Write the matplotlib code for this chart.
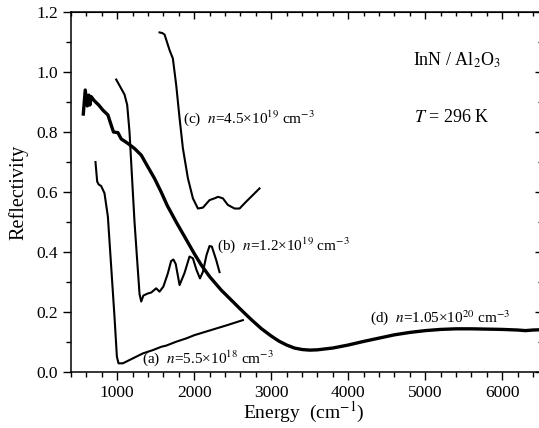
import matplotlib
matplotlib.use('Agg')
import matplotlib.pyplot as plt
from matplotlib.ticker import MultipleLocator

plt.rcParams['font.family'] = ['Liberation Serif', 'DejaVu Serif']
plt.rcParams['mathtext.fontset'] = 'stix'

# (a) n=5.5e18
a_E = [718, 740, 760, 792, 835, 879, 922, 965, 996, 1017, 1074, 1160, 1247,
       1333, 1463, 1571, 1636, 1766, 1896, 2004, 2221, 2438, 2632]
a_R = [0.70, 0.635, 0.625, 0.62, 0.596, 0.518, 0.351, 0.184, 0.051, 0.029,
       0.029, 0.04, 0.051, 0.062, 0.073, 0.084, 0.088, 0.101, 0.112, 0.123,
       0.14, 0.157, 0.173]

# (b) n=1.2e19
b_E = [987, 1052, 1095, 1130, 1160, 1190, 1225, 1260, 1290, 1312, 1340, 1400,
       1442, 1506, 1550, 1600, 1658, 1700, 1730, 1760, 1810, 1874, 1939, 1983,
       2030, 2075, 2113, 2160, 2199, 2229, 2286, 2329]
b_R = [0.975, 0.945, 0.925, 0.89, 0.80, 0.66, 0.50, 0.37, 0.26, 0.235, 0.255,
       0.262, 0.265, 0.279, 0.268, 0.285, 0.329, 0.37, 0.375, 0.36, 0.29, 0.33,
       0.385, 0.379, 0.34, 0.312, 0.334, 0.39, 0.42, 0.418, 0.373, 0.333]

# (c) n=4.5e19
c_E = [1550, 1585, 1615, 1680, 1723, 1766, 1810, 1853, 1918, 1983, 2048, 2113,
       2199, 2264, 2310, 2372, 2437, 2524, 2589, 2675, 2762, 2848]
c_R = [1.132, 1.13, 1.125, 1.073, 1.045, 0.957, 0.846, 0.746, 0.646, 0.579,
       0.545, 0.548, 0.573, 0.579, 0.584, 0.579, 0.557, 0.545, 0.545, 0.568,
       0.59, 0.612]

# (d) n=1.05e20
d_E = [560, 585, 612, 632, 645, 662, 700, 760, 814, 879, 922, 952, 1009, 1052,
       1139, 1225, 1312, 1398, 1485, 1571, 1650, 1766, 1900, 2000, 2091, 2200,
       2351, 2500, 2610, 2740, 2870, 3000, 3100, 3200, 3300, 3400, 3500, 3600,
       3800, 4000, 4200, 4400, 4600, 4800, 5000, 5200, 5400, 5600, 5800, 6000,
       6200, 6300, 6400, 6510]
d_R = [0.86, 0.94, 0.887, 0.923, 0.89, 0.918, 0.905, 0.89, 0.873, 0.857, 0.823,
       0.80, 0.798, 0.777, 0.762, 0.745, 0.723, 0.684, 0.645, 0.60, 0.555, 0.50,
       0.44, 0.395, 0.357, 0.318, 0.273, 0.235, 0.207, 0.175, 0.145, 0.12,
       0.103, 0.09, 0.08, 0.075, 0.073, 0.074, 0.08, 0.09, 0.102, 0.113, 0.124,
       0.132, 0.138, 0.142, 0.144, 0.144, 0.143, 0.142, 0.140, 0.138, 0.140,
       0.141]

fig = plt.figure(figsize=(5.39, 4.28), dpi=100)
# right spine sits just past the picture's edge, as in the original
ax = fig.add_axes([0.1317, 0.1308, 0.873, 0.8411])

ax.plot(a_E, a_R, color='black', lw=1.5)
ax.plot(b_E, b_R, color='black', lw=1.5)
ax.plot(c_E, c_R, color='black', lw=1.5)
ax.plot(d_E, d_R, color='black', lw=2.4)

ax.set_xlim(400, 6510)
ax.set_ylim(0, 1.2)
ax.xaxis.set_major_locator(MultipleLocator(1000))
ax.xaxis.set_minor_locator(MultipleLocator(200))
ax.yaxis.set_major_locator(MultipleLocator(0.2))
ax.yaxis.set_minor_locator(MultipleLocator(0.1))
ax.yaxis.set_major_formatter(plt.FormatStrFormatter('%.1f'))
ax.set_xticks([1000, 2000, 3000, 4000, 5000, 6000])

for s in ax.spines.values():
    s.set_linewidth(1.1)

ax.tick_params(which='both', direction='out', top=False, right=False,
               labelsize=12.5, width=1.0)
ax.tick_params(which='major', length=6)
ax.tick_params(which='minor', length=3.5)

# mirrored inward ticks on top and right
sec_x = ax.secondary_xaxis('top')
sec_x.xaxis.set_major_locator(MultipleLocator(1000))
sec_x.xaxis.set_minor_locator(MultipleLocator(200))
sec_x.tick_params(which='both', direction='in', labeltop=False, width=1.0)
sec_x.tick_params(which='major', length=5)
sec_x.tick_params(which='minor', length=3)
sec_y = ax.secondary_yaxis('right')
sec_y.yaxis.set_major_locator(MultipleLocator(0.2))
sec_y.yaxis.set_minor_locator(MultipleLocator(0.1))
sec_y.tick_params(which='both', direction='in', labelright=False, width=1.0)
sec_y.tick_params(which='major', length=5)
sec_y.tick_params(which='minor', length=3)

ax.set_ylabel('Reflectivity', fontsize=14.5)
ax.yaxis.set_label_coords(-0.09, 0.5)
ax.set_xlabel('Energy  (cm$^{-1}$)', fontsize=14)
ax.xaxis.set_label_coords(0.494, -0.078)

fs = 11
ax.text(1857, 0.847, r'(c)  $n$=4.5×10$^{19}$ cm$^{-3}$', fontsize=fs, va='center')
ax.text(2299, 0.423, r'(b)  $n$=1.2×10$^{19}$ cm$^{-3}$', fontsize=fs, va='center')
ax.text(1325, 0.047, r'(a)  $n$=5.5×10$^{18}$ cm$^{-3}$', fontsize=fs, va='center')
ax.text(4286, 0.18, r'(d)  $n$=1.05×10$^{20}$ cm$^{-3}$', fontsize=fs, va='center')
ax.text(4844, 1.04, r'InN / Al$_2$O$_3$', fontsize=13, va='center')
ax.text(4860, 0.847, r'$T$ = 296 K', fontsize=13, va='center')

fig.savefig('out.png', dpi=100)
